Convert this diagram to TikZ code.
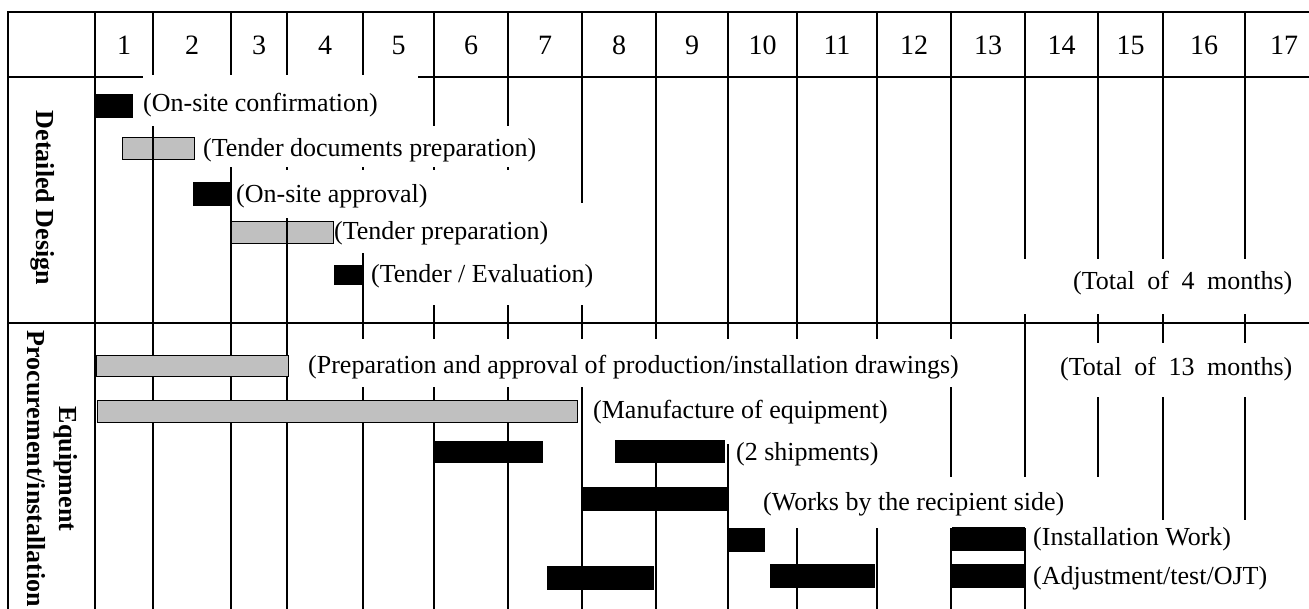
\documentclass[tikz,border=0pt]{standalone}
\usepackage{fontspec}
\setmainfont{Liberation Serif}
\definecolor{bargray}{HTML}{C0C0C0}
\begin{document}
\begin{tikzpicture}[x=1pt,y=-1pt,
  gridline/.style={line width=1.8pt,black},
  cover/.style={fill=white},
  blackbar/.style={fill=black},
  graybar/.style={fill=bargray,draw=black,line width=1pt},
  lbl/.style={anchor=west,inner sep=0pt,font=\fontsize{26}{30}\selectfont},
  num/.style={inner sep=0pt,font=\fontsize{28}{32}\selectfont},
  sect/.style={inner sep=0pt,rotate=-90,align=center,font=\fontsize{26}{32}\selectfont\bfseries}]
\useasboundingbox (0,0) rectangle (1309,609);
% gray bars of the first section lie under the grid
\draw[graybar] (122,138) rectangle (194,160);
\draw[graybar] (230,222) rectangle (333,244);
% grid
\draw[gridline] (8,609) -- (8,12) -- (1309,12);
\draw[gridline] (8,77) -- (1309,77);
\draw[gridline] (8,323) -- (1309,323);
\foreach \x in {95,153,231,287,363,434,508,582,656,728,797,877,951,1025,1098,1163,1245}
  \draw[gridline] (\x,12) -- (\x,609);
% white text boxes hiding parts of the grid
\fill[cover] (143,75) rectangle (418,126);
\fill[cover] (196,126) rectangle (562,167);
\fill[cover] (233,170) rectangle (570,218);
\fill[cover] (335,203) rectangle (640,253);
\fill[cover] (366,253) rectangle (640,305);
\fill[cover] (990,259) rectangle (1309,314);
\fill[cover] (296,339) rectangle (1005,387);
\fill[cover] (1040,343) rectangle (1309,397);
\fill[cover] (588,387) rectangle (945,444);
\fill[cover] (731,444) rectangle (945,477);
\fill[cover] (740,477) rectangle (1120,528);
\fill[cover] (1028,520) rectangle (1309,558);
\fill[cover] (1028,558) rectangle (1309,609);
% bars
\fill[blackbar] (95,94) rectangle (133,118);
\fill[blackbar] (193,182) rectangle (231,206);
\fill[blackbar] (334,265) rectangle (363,285);
\draw[graybar] (96,356) rectangle (288,377);
\draw[graybar] (97,400) rectangle (577,422);
\fill[blackbar] (434,441) rectangle (543,463);
\fill[blackbar] (615,440) rectangle (725,463);
\fill[blackbar] (582,487) rectangle (728,511);
\fill[blackbar] (729,528) rectangle (765,552);
\fill[blackbar] (547,566) rectangle (654,590);
\fill[blackbar] (770,564) rectangle (875,588);
\fill[blackbar] (952,527) rectangle (1025,551);
\fill[blackbar] (952,564) rectangle (1025,588);
% month numbers
\foreach \n/\x in {1/124,2/192,3/259,4/325,5/398.5,6/471,7/545,8/619,9/692,10/762.5,11/837,12/914,13/988,14/1061.5,15/1130.5,16/1204,17/1284}
  \node[num] (m\n) at (\x,45) {\n};
% section labels
\node[sect] (secDD) at (43,198) {Detailed Design};
\node[sect] (secEP) at (52,469) {Equipment\\Procurement/installation};
% activity labels
\node[lbl] (conf) at (143,105) {(On-site confirmation)};
\node[lbl] (tdoc) at (203,150) {(Tender documents preparation)};
\node[lbl] (appr) at (236,196) {(On-site approval)};
\node[lbl] (tprep) at (334,233) {(Tender preparation)};
\node[lbl] (teval) at (371,276) {(Tender / Evaluation)};
\node[lbl] (tot4) at (1073,283) {(Total\hspace{6pt} of\hspace{6pt} 4\hspace{6pt} months)};
\node[lbl] (prep) at (308,367) {(Preparation and approval of production/installation drawings)};
\node[lbl] (tot13) at (1060,369) {(Total\hspace{6pt} of\hspace{6pt} 13\hspace{6pt} months)};
\node[lbl] (manu) at (593,412) {(Manufacture of equipment)};
\node[lbl] (ship) at (736,454) {(2 shipments)};
\node[lbl] (works) at (763,504) {(Works by the recipient side)};
\node[lbl] (inst) at (1033,539) {(Installation Work)};
\node[lbl] (adj) at (1033,578) {(Adjustment/test/OJT)};
\end{tikzpicture}
\end{document}
